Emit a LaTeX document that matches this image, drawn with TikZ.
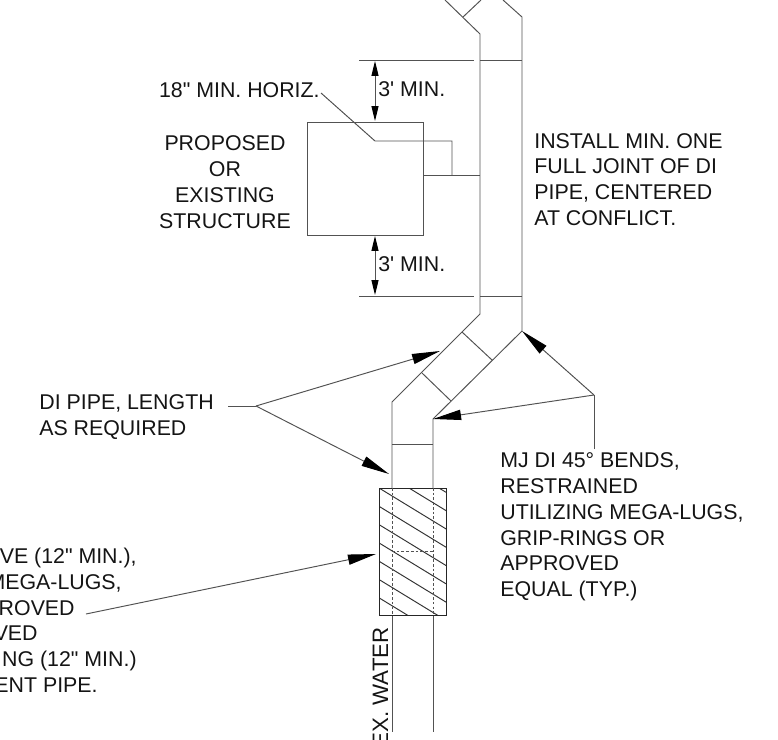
\documentclass[tikz,border=0pt]{standalone}
\usepackage{fontspec}
\usetikzlibrary{arrows.meta}
\newfontfamily\lblfont{Liberation Sans}
\tikzset{
	line/.style={draw=black!68,line width=.55pt},
	lbl/.style={font=\lblfont\fontsize{12.15}{14.7}\selectfont,inner sep=0pt,text=black!92},
	leadtip/.style={-{Triangle[length=16pt,width=5.8pt,color=black]}},
	dimtip/.style={{Triangle[length=8.5pt,width=4pt,color=black]}-{Triangle[length=8.5pt,width=4pt,color=black]}},
	dots/.style={dash pattern=on 1.5pt off 1.2pt},
}
\begin{document}
\begin{tikzpicture}[x=.02cm,y=-.02cm]
	\useasboundingbox (0,0) rectangle (778,740);
	% main, upper pipe
	\draw[line] (445,0) -- (480,34) -- (480,314);
	\draw[line] (503,0) -- (522,17) -- (522,331);
	\draw[line] (463,17) -- (481,0);
	\draw[line] (480,60) -- (522,60);
	\draw[line] (480,296) -- (522,296);
	% offset, lower pipe
	\draw[line] (480,314) -- (392,402) -- (392,488);
	\draw[line] (522,331) -- (433,419) -- (433,488);
	\draw[line] (462,332) -- (492,360);
	\draw[line] (422,373) -- (451,401);
	\draw[line] (392,444) -- (433,444);
	\draw[line] (392,615) -- (392,732);
	\draw[line] (433,615) -- (433,732);
	% sleeve
	\begin{scope}
		\clip (379,488) rectangle (446,615);
		\foreach \k in {-2,...,6}
			\draw[line,draw=black!80] (379,488+18.3*\k) -- ++(67,40.9);
	\end{scope}
	\draw[line,draw=black!85] (379,488) rectangle (446,615);
	\draw[line,dots] (392,488) -- (392,615);
	\draw[line,dots] (433,488) -- (433,615);
	\draw[line,dots] (392,551) -- (433,551);
	\node[lbl,font=\lblfont\fontsize{12.7}{14.7}\selectfont,rotate=90,anchor=base east] (water) at (388,627) {EX. WATER};
	% structure and dimensions
	\draw[line] (307,122) rectangle (423,235);
	\draw[line] (359,60) -- (474,60);
	\draw[line] (359,296) -- (474,296);
	\draw[line,dimtip] (375,61) -- (375,121);
	\draw[line,dimtip] (375,236) -- (375,295);
	\draw[line] (423,175) -- (480,175);
	\node[lbl,anchor=base west] (upmin) at (378,97) {3' MIN.};
	\node[lbl,anchor=base west] (lowmin) at (378,271) {3' MIN.};
	\node[lbl,anchor=base east] (horiz) at (320,98) {18" MIN. HORIZ.};
	\draw[line] (321,93) -- (375,141) -- (452,141) -- (452,175);
	\node[lbl,align=center] (struct) at (225,182) {PROPOSED\\OR\\EXISTING\\STRUCTURE};
	\node[lbl,align=left,anchor=west] (install) at (534,179.5) {INSTALL MIN. ONE\\FULL JOINT OF DI\\PIPE, CENTERED\\AT CONFLICT.};
	% leaders
	\node[lbl,align=left,anchor=west] (dipipe) at (39,417) {DI PIPE, LENGTH\\AS REQUIRED};
	\coordinate (difork) at (256,406);
	\draw[line] (228,406) -- (difork);
	\draw[line,leadtip] (difork) -- (440,351);
	\draw[line,leadtip] (difork) -- (389,474);
	\node[lbl,align=left,anchor=west] (bends) at (500,527) {MJ DI 45° BENDS,\\RESTRAINED\\UTILIZING MEGA-LUGS,\\GRIP-RINGS OR\\APPROVED\\EQUAL (TYP.)};
	\coordinate (bendfork) at (594,395);
	\draw[line] (594,449) -- (bendfork);
	\draw[line,leadtip] (bendfork) -- (522,331);
	\draw[line,leadtip] (bendfork) -- (433,419);
	\draw[line,leadtip] (86,614) -- (376,554);
	% text running off the left edge
	\foreach \n/\yy/\xx/\txt in {a/563/137/{VE (12" MIN.),},b/589/122/{MEGA-LUGS,},c/615/75/{ROVED},d/640/38/{VED},e/666/137/{ING (12" MIN.)},f/692/98/{ENT PIPE.}}
		\node[lbl,anchor=base east] (sleeve\n) at (\xx,\yy) {\txt};
\end{tikzpicture}
\end{document}
